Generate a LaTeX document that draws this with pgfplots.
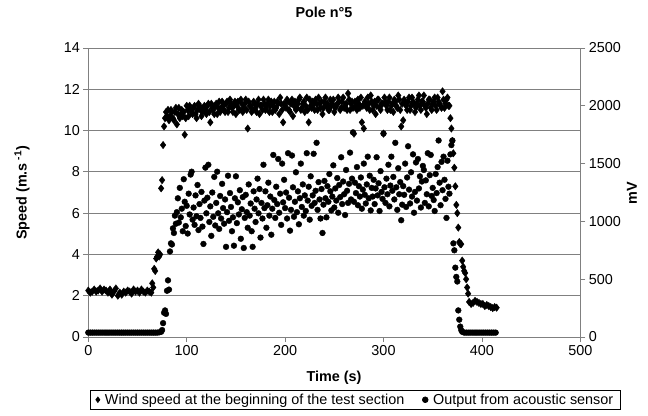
\documentclass[border=0pt]{standalone}
\usepackage{fontspec}
\setmainfont{Liberation Sans}
\usepackage{pgfplots}
\pgfplotsset{compat=1.18}
\usepackage{pgfplotstable}

\pgfplotstableread{
t v
0 2.25
2 2.15
4 2.2
6 2.3
8 2.2
10 2.25
12 2.35
14 2.2
16 2.3
18 2.25
20 2.15
22 2.3
24 2.05
26 2.2
28 2.35
30 2.0
32 2.15
34 2.05
36 2.2
38 2.15
40 2.25
42 2.2
44 2.1
46 2.3
48 2.2
50 2.25
52 2.15
54 2.3
56 2.2
58 2.15
60 2.25
62 2.2
64 2.15
65 2.6
66 2.4
67 3.3
68 3.2
69 3.8
70 3.9
71 4.1
72 3.9
73 4.0
74 7.2
75 7.6
76 9.3
77 10.2
78 10.6
79 10.9
80 10.7
81 11.0
82 10.5
83 10.7
84 11.0
85 10.9
86 10.6
87 10.5
88 10.9
89 11.1
90 10.3
91 10.8
92 11.1
93 10.6
94 10.8
95 11.0
96 10.7
97 10.9
98 9.8
99 10.6
100 11.2
101 11.0
102 10.7
103 11.2
104 11.0
105 10.9
106 10.8
107 11.1
108 11.2
109 10.8
110 10.6
111 11.0
112 11.3
113 11.2
114 11.0
115 10.7
116 10.9
117 11.1
118 11.2
119 11.0
120 10.8
121 11.2
122 11.3
123 10.9
124 10.4
125 11.3
126 11.1
127 11.0
128 10.8
129 11.2
130 11.3
131 10.8
132 11.1
133 11.4
134 10.9
135 11.1
136 11.4
137 11.2
138 11.0
139 10.9
140 11.3
141 11.4
142 10.9
143 11.1
144 11.5
145 11.3
146 11.1
147 10.9
148 11.2
149 11.4
150 10.8
151 11.2
152 11.4
153 11.0
154 11.0
155 11.5
156 11.3
157 10.9
158 11.1
159 11.3
160 11.5
161 11.0
162 10.1
163 11.4
164 11.2
165 11.2
166 10.9
167 11.0
168 11.4
169 11.3
170 11.1
171 10.9
172 11.3
173 11.5
174 10.8
175 11.2
176 11.2
177 11.0
178 11.5
179 11.3
180 11.0
181 11.1
182 11.3
183 11.5
184 10.9
185 11.2
186 11.4
187 10.9
188 11.2
189 11.4
190 11.0
191 11.1
192 11.4
193 11.3
194 10.8
195 11.6
196 11.3
197 11.0
198 10.4
199 11.3
200 11.2
201 11.1
202 11.5
203 11.4
204 11.0
205 10.9
206 11.3
207 11.5
208 10.7
209 11.2
210 11.4
211 11.0
212 11.1
213 11.3
214 11.5
215 11.6
216 11.0
217 11.1
218 11.3
219 11.4
220 10.9
221 11.2
222 11.6
223 11.0
224 10.4
225 11.5
226 11.2
227 11.1
228 11.4
229 11.3
230 11.0
231 11.5
232 11.3
233 11.0
234 11.6
235 11.3
236 11.1
237 11.4
238 10.8
239 11.1
240 11.4
241 11.6
242 11.2
243 11.3
244 11.0
245 11.0
246 11.5
247 11.2
248 11.3
249 11.5
250 10.9
251 11.1
252 11.2
253 11.3
254 11.6
255 11.4
256 11.0
257 11.1
258 11.4
259 11.6
260 11.1
261 11.2
262 11.3
263 11.0
264 11.8
265 11.5
266 11.0
267 11.3
268 11.4
269 11.1
270 9.85
271 11.4
272 11.2
273 11.0
274 11.5
275 11.3
276 11.1
277 11.6
278 10.4
279 11.2
280 10.1
281 11.4
282 11.3
283 11.1
284 11.6
285 11.3
286 11.0
287 11.7
288 11.4
289 11.0
290 11.2
291 11.4
292 10.8
293 11.2
294 11.5
295 11.5
296 11.1
297 11.0
298 11.3
299 11.3
300 9.85
301 11.6
302 11.4
303 11.2
304 11.0
305 11.4
306 11.6
307 11.0
308 11.2
309 11.3
310 10.9
311 11.5
312 11.4
313 11.2
314 11.1
315 11.7
316 11.5
317 11.0
318 10.2
319 11.3
320 10.5
321 11.5
322 11.3
323 11.2
324 11.0
325 11.4
326 11.6
327 11.0
328 11.2
329 11.6
330 11.4
331 11.3
332 10.9
333 11.1
334 11.3
335 11.5
336 11.7
337 11.2
338 11.0
339 11.4
340 11.4
341 11.7
342 11.2
343 11.1
344 10.8
345 11.3
346 11.5
347 11.5
348 11.1
349 11.0
350 11.3
351 11.4
352 11.6
353 11.2
354 11.0
355 11.6
356 11.4
357 11.3
358 11.2
359 11.1
360 11.9
361 11.5
362 11.1
363 11.3
364 11.5
365 11.6
366 11.2
367 11.2
368 10.6
369 10.1
370 9.5
371 8.9
372 8.2
373 7.3
374 6.4
375 6.0
376 5.3
377 4.6
378 4.5
379 4.5
380 3.7
381 3.4
382 3.2
383 3.1
384 2.8
385 2.4
386 2.1
387 1.7
389 1.6
391 1.65
393 1.75
395 1.7
397 1.65
399 1.6
401 1.6
403 1.5
405 1.55
407 1.5
409 1.45
411 1.4
413 1.45
415 1.42
}\windtable

\pgfplotstableread{
t v
0 38
2 38
4 38
6 38
8 38
10 38
12 38
14 38
16 38
18 38
20 38
22 38
24 38
26 38
28 38
30 38
32 38
34 38
36 38
38 38
40 38
42 38
44 38
46 38
48 38
50 38
52 38
54 38
56 38
58 38
60 38
62 38
64 38
66 38
68 38
70 38
72 40
74 45
75 60
76 120
77 210
78 230
79 200
80 400
81 490
82 410
83 740
84 810
85 800
86 940
87 900
88 1050
89 980
90 1080
91 1200
92 990
93 1290
94 1035
95 1110
96 915
97 1365
98 1170
99 960
100 1135
101 895
102 1240
103 1060
104 1405
105 1430
106 1015
107 1120
108 970
109 1225
110 1045
111 1315
112 925
113 1150
114 1030
115 1255
116 955
117 805
118 1180
119 1465
120 1070
121 1205
122 1490
123 995
124 1130
125 875
126 1250
127 1040
128 1385
129 965
130 1160
131 1430
132 1070
133 935
134 1220
135 1025
136 1325
137 1115
138 980
139 1190
140 780
141 1080
142 1395
143 1005
144 1245
145 1125
146 915
147 1035
148 790
149 1200
150 1390
151 985
152 1165
153 1060
154 1270
155 850
156 1105
157 1210
158 770
159 1030
160 1230
161 1080
162 945
163 1320
164 1050
165 1155
166 915
167 780
168 1260
169 1110
170 995
171 1190
172 1370
173 1070
174 1280
175 860
176 1160
177 1025
178 1490
179 1115
180 1260
181 945
182 1140
183 1335
184 1050
185 1215
186 885
187 1110
188 1575
189 1185
190 1030
191 1300
192 1150
193 1540
194 1075
195 1240
196 970
197 1500
198 1165
199 1360
200 1115
201 1250
202 1025
203 1590
204 1205
205 920
206 1100
207 1570
208 1295
209 1040
210 1170
211 1425
212 1080
213 1260
214 975
215 1200
216 1500
217 1125
218 1320
219 1050
220 1225
221 1090
222 1590
223 1180
224 1300
225 1015
226 1390
227 1135
228 1225
229 1585
230 1160
231 1265
232 1680
233 1100
234 1340
235 1190
236 1025
237 1280
238 900
239 1145
240 1350
241 1200
242 1035
243 1305
244 1170
245 1410
246 1260
247 1095
248 1215
249 1485
250 1120
251 1285
252 1180
253 1375
254 1075
255 1315
256 1210
257 1555
258 1150
259 1345
260 1235
261 1055
262 1445
263 1265
264 1160
265 1325
266 1595
267 1190
268 1370
269 1770
270 1170
271 1335
272 1245
273 1470
274 1140
275 1305
276 1215
277 1380
278 1110
279 1275
280 1500
281 1230
282 1155
283 1320
284 1560
285 1200
286 1395
287 1095
288 1290
289 1215
290 1360
291 1150
292 1285
293 1555
294 1225
295 1330
296 1090
297 1435
298 1255
299 1195
300 1760
301 1295
302 1160
303 1370
304 1235
305 1490
306 1130
307 1310
308 1560
309 1265
310 1385
311 1190
312 1680
313 1295
314 1100
315 1460
316 1235
317 1340
318 1010
319 1145
320 1305
321 1230
322 1500
323 1125
324 1380
325 1650
326 1275
327 1155
328 1425
329 1215
330 1580
331 1075
332 1255
333 1510
334 1180
335 1540
336 1285
337 1390
338 1120
339 1345
340 1480
341 1445
342 1160
343 1355
344 1235
345 1590
346 1130
347 1400
348 1575
349 1220
350 1290
351 1185
352 1090
353 1410
354 1245
355 1470
356 1700
357 1335
358 1140
359 1515
360 1270
361 1560
362 1360
363 1195
364 1030
365 1525
366 1300
367 1240
368 1580
369 1660
370 1700
371 810
372 750
373 600
374 520
375 480
376 230
377 150
378 90
379 60
380 45
382 38
384 38
386 38
388 38
390 38
392 38
394 38
396 38
398 38
400 38
402 38
404 38
406 38
408 38
410 38
412 38
414 38
}\acoustictable

\newcommand{\fs}{\fontsize{14.4bp}{17bp}\selectfont}
\definecolor{axgray}{RGB}{128,128,128}

\begin{document}
\begin{tikzpicture}
\path[use as bounding box] (-88.3bp,-79bp) rectangle (559.7bp,337bp);
\pgfplotsset{
  common/.style={scale only axis, width=492bp, height=289bp,
    xmin=0, xmax=500, at={(0,0)}, anchor=south west,
    /pgf/number format/assume math mode=true,
    /pgf/number format/1000 sep={},
    tick label style={font=\fs, black},
    tick align=outside, major tick length=5bp,
    axis line style={-, draw=axgray, line width=0.8bp},
    tick style={draw=axgray, line width=0.8bp},
    scaled ticks=false, clip=false}
}
\begin{axis}[common, ymin=0, ymax=14,
  axis y line*=left, axis x line*=bottom,
  xtick={0,100,...,500}, ytick={0,2,...,14},
  ymajorgrids, major grid style={draw=axgray, line width=0.8bp}]
\addplot[only marks, mark=diamond*, mark size=3.7bp, black] table[x=t,y=v]{\windtable};
\end{axis}
\begin{axis}[common, ymin=0, ymax=2500,
  axis y line*=right, hide x axis,
  ytick={0,500,...,2500},
  legend style={at={(0.5431,-0.1834)}, anchor=north, legend columns=2,
    draw=black, line width=0.6bp, font=\fs, inner xsep=5bp, inner ysep=1.5bp,
    /tikz/every odd column/.append style={column sep=3bp},
    /tikz/every even column/.append style={column sep=16bp}},
  legend cell align=left]
\addlegendimage{only marks, mark=diamond*, mark size=2.8bp, black}
\addlegendentry{Wind speed at the beginning of the test section}
\addplot[only marks, mark=*, mark size=2.9bp, black] table[x=t,y=v]{\acoustictable};
\addlegendentry{Output from acoustic sensor}
\end{axis}
\node[font=\bfseries\fs] at (235.7bp,325bp) {Pole n°5};
\node[font=\bfseries\fs, rotate=90] at (-66.3bp,144bp) {Speed (m.s\textsuperscript{ -1})};
\node[font=\bfseries\fs, rotate=90] at (543.7bp,144bp) {mV};
\node[font=\bfseries\fs] at (245.7bp,-41bp) {Time (s)};
\end{tikzpicture}
\end{document}
